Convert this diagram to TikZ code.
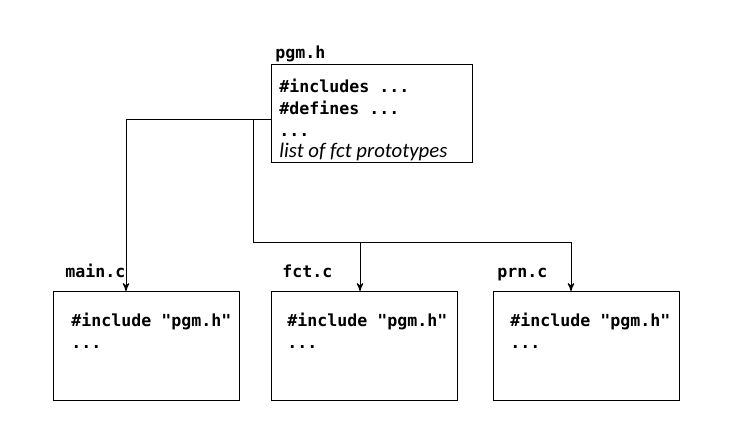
\documentclass[tikz,border=0pt]{standalone}
\usepackage{fontspec}
\setmonofont{DejaVu Sans Mono}
\newfontfamily\notefont{Carlito}
\usetikzlibrary{positioning, arrows}

\tikzset{
  srcbox/.style={draw, line width=0.6pt, inner sep=0pt, minimum width=93pt, minimum height=54.5pt},
  hdrbox/.style={draw, line width=0.6pt, inner sep=0pt, minimum width=100.5pt, minimum height=49pt},
  fname/.style={inner sep=0pt, anchor=base west, font=\fontsize{8.3}{10}\ttfamily\bfseries},
  code/.style={inner sep=0pt, anchor=north west, align=left, font=\fontsize{8.3}{10.7}\ttfamily\bfseries},
  link/.style={line width=0.5pt, -stealth'}
}

\begin{document}
\begin{tikzpicture}[x=0.5pt, y=-0.5pt]
  \useasboundingbox (0,0) rectangle (734,436);

  % header file
  \node[hdrbox, anchor=north west] (pgm) at (271,64) {};
  \node[fname] (pgmlbl) at (275,58) {pgm.h};
  \node[code, font=\fontsize{8.3}{11}\ttfamily\bfseries] (pgmtxt) at (279,79) {\#includes ...\\\#defines ...\\...\\[-0.5pt]{\notefont\mdseries\itshape\fontsize{10.4}{11}\selectfont list of fct prototypes}};

  % source files
  \node[srcbox, anchor=north west] (mainc) at (53,291) {};
  \node[srcbox, anchor=north west] (fctc) at (271,291) {};
  \node[srcbox, anchor=north west] (prnc) at (493,291) {};

  \node[fname] (mainlbl) at (65,277) {main.c};
  \node[fname] (fctlbl) at (282,277) {fct.c};
  \node[fname] (prnlbl) at (497,277) {prn.c};

  \node[code] (maintxt) at (71,313) {\#include "pgm.h"\\...};
  \node[code] (fcttxt) at (287,313) {\#include "pgm.h"\\...};
  \node[code] (prntxt) at (510,313) {\#include "pgm.h"\\...};

  % connectors
  \coordinate (split) at (253,119);
  \coordinate (bus) at (253,242);
  \coordinate (mainin) at ([xshift=36.5pt]mainc.north west);
  \coordinate (fctin) at ([xshift=44.5pt]fctc.north west);
  \coordinate (prnin) at ([xshift=39pt]prnc.north west);

  \draw[link] (pgm.west |- split) -| (mainin);
  \draw[link] (split) -- (bus) -| (prnin);
  \draw[link] (bus -| fctin) -- (fctin);
\end{tikzpicture}
\end{document}
